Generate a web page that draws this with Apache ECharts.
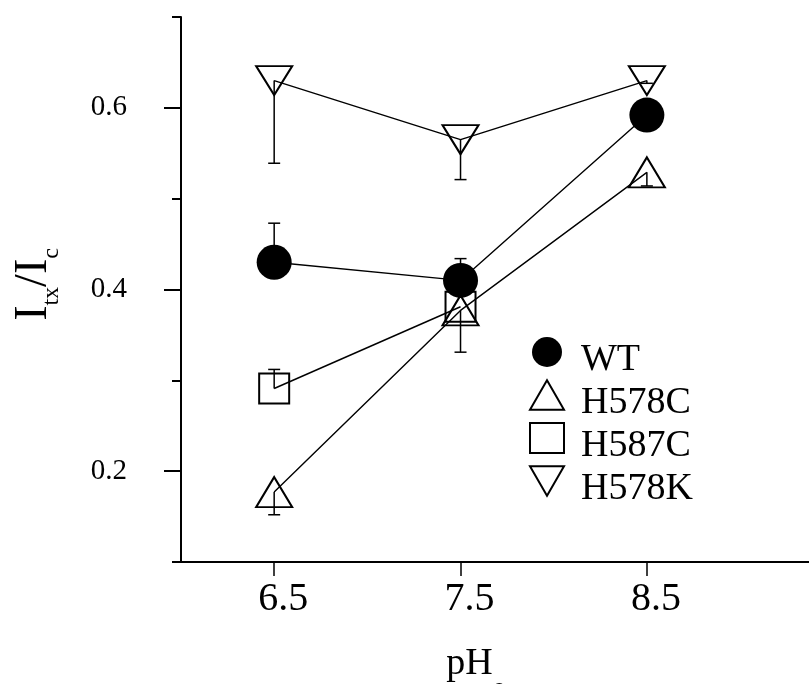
<!DOCTYPE html>
<html>
<head>
<meta charset="utf-8">
<script src="https://cdn.jsdelivr.net/npm/echarts@6/dist/echarts.min.js"></script>
<style>
  html, body { margin: 0; padding: 0; background: #fff; }
  #chart { width: 809px; height: 684px; }
</style>
</head>
<body>
<div id="chart"></div>
<script>
// values
var phValues = [6.5, 7.5, 8.5];
var wtValues = [0.43, 0.41, 0.592];
var h578cValues = [0.177, 0.377, 0.529];
var h587cValues = [0.291, 0.381, null];
var h578kValues = [0.63, 0.565, 0.63];
// one-sided error bars, value where the cap sits
var wtErrEnd = [0.473, 0.434, null];
var h578cErrEnd = [0.152, 0.331, 0.514];
var h587cErrEnd = [0.312, null, null];
var h578kErrEnd = [0.539, 0.521, 0.627];
var xTickValues = [6.5, 7.5, 8.5];
var yMajorTicks = [0.2, 0.4, 0.6];
var yMinorTicks = [0.1, 0.3, 0.5, 0.7];

var serif = "'Liberation Serif', 'Times New Roman', serif";
var upTri = 'path://M10,0L20,17.3L0,17.3Z';
var downTri = 'path://M0,0L20,0L10,17.3Z';

function pairs(vals) {
  var out = [];
  phValues.forEach(function (x, i) {
    if (vals[i] != null) out.push([x, vals[i]]);
  });
  return out;
}
function errRows(vals, ends) {
  var out = [];
  phValues.forEach(function (x, i) {
    if (vals[i] != null && ends[i] != null) out.push([x, vals[i], ends[i]]);
  });
  return out;
}

function renderErrorBar(params, api) {
  var p0 = api.coord([api.value(0), api.value(1)]);
  var p1 = api.coord([api.value(0), api.value(2)]);
  var half = 6;
  var st = { stroke: '#000', lineWidth: 1.5 };
  return {
    type: 'group',
    children: [
      { type: 'line', shape: { x1: p0[0], y1: p0[1], x2: p1[0], y2: p1[1] }, style: st },
      { type: 'line', shape: { x1: p1[0] - half, y1: p1[1], x2: p1[0] + half, y2: p1[1] }, style: st }
    ]
  };
}

var groups = [
  { name: 'WT', vals: wtValues, ends: wtErrEnd, symbol: 'circle', size: 35, fill: '#000' },
  { name: 'H578C', vals: h578cValues, ends: h578cErrEnd, symbol: upTri, size: [36, 30], fill: 'rgba(0,0,0,0)' },
  { name: 'H587C', vals: h587cValues, ends: h587cErrEnd, symbol: 'rect', size: 30, fill: 'rgba(0,0,0,0)' },
  { name: 'H578K', vals: h578kValues, ends: h578kErrEnd, symbol: downTri, size: [36, 29], fill: 'rgba(0,0,0,0)' }
];

var series = [];
groups.forEach(function (g) {
  series.push({
    name: g.name + '_err',
    type: 'custom',
    z: 1,
    renderItem: renderErrorBar,
    encode: { x: 0, y: [1, 2] },
    data: errRows(g.vals, g.ends),
    silent: true
  });
  series.push({
    name: g.name + '_line',
    type: 'line',
    z: 2,
    data: pairs(g.vals),
    symbol: 'none',
    lineStyle: { color: '#000', width: 1.4 },
    silent: true
  });
  series.push({
    name: g.name,
    type: 'scatter',
    z: 3,
    data: pairs(g.vals),
    symbol: g.symbol,
    symbolSize: g.size,
    itemStyle: { color: g.fill, borderColor: '#000', borderWidth: g.fill === '#000' ? 0 : 2, opacity: 1 }
  });
});

var chart = echarts.init(document.getElementById('chart'));
chart.setOption({
  animation: false,
  backgroundColor: '#fff',
  grid: { left: 181, right: 0, top: 17, bottom: 122, outerBoundsMode: 'none', containLabel: false },
  legend: {
    data: [
      { name: 'WT', icon: 'circle' },
      { name: 'H578C', icon: upTri },
      { name: 'H587C', icon: 'rect' },
      { name: 'H578K', icon: downTri }
    ],
    orient: 'vertical',
    left: 529,
    top: 325,
    padding: 0,
    itemWidth: 34,
    itemHeight: 30,
    itemGap: -11,
    selectedMode: false,
    formatter: '{t|{name}}',
    textStyle: {
      color: '#000',
      rich: {
        t: { fontFamily: serif, fontSize: 38, lineHeight: 24, color: '#000', padding: [16, 0, 0, 12] }
      }
    }
  },
  xAxis: {
    type: 'value',
    min: 6,
    max: 9.37,
    splitLine: { show: false },
    axisLine: { onZero: false, lineStyle: { color: '#000', width: 2 } },
    axisTick: { customValues: xTickValues, length: 14, lineStyle: { color: '#000', width: 1.5 } },
    axisLabel: {
      customValues: xTickValues,
      margin: 17,
      fontFamily: serif,
      fontSize: 40,
      lineHeight: 40,
      color: '#000',
      padding: [0, 0, 0, 18]
    },
    name: '{m|pH}{s|o}',
    nameLocation: 'middle',
    nameGap: 65,
    nameTextStyle: {
      padding: [0, 38, 0, 0],
      rich: {
        m: { fontFamily: serif, fontSize: 38, lineHeight: 74, color: '#000' },
        s: { fontFamily: serif, fontSize: 26, lineHeight: 26, verticalAlign: 'bottom', color: '#000' }
      }
    }
  },
  yAxis: [
    {
      type: 'value',
      min: 0.1,
      max: 0.7,
      splitLine: { show: false },
      axisLine: { show: true, onZero: false, lineStyle: { color: '#000', width: 2 } },
      axisTick: { customValues: yMajorTicks, length: 17, lineStyle: { color: '#000', width: 2 } },
      axisLabel: {
        customValues: yMajorTicks,
        margin: 54,
        fontFamily: serif,
        fontSize: 29,
        color: '#000',
        padding: [0, 0, 16, 0],
        formatter: function (v) { return v.toFixed(1); }
      },
      name: '{i|I}{s|tx}{i|/I}{s|c}',
      nameLocation: 'middle',
      nameRotate: 90,
      nameGap: 117,
      nameTextStyle: {
        padding: [0, 0, 0, 10],
        rich: {
          i: { fontFamily: serif, fontSize: 46, lineHeight: 60, color: '#000' },
          s: { fontFamily: serif, fontSize: 24, lineHeight: 24, verticalAlign: 'bottom', color: '#000' }
        }
      }
    },
    {
      type: 'value',
      min: 0.1,
      max: 0.7,
      position: 'left',
      splitLine: { show: false },
      axisLine: { show: false },
      axisTick: { show: true, customValues: yMinorTicks, length: 9, lineStyle: { color: '#000', width: 2 } },
      axisLabel: { show: false }
    }
  ],
  series: series
});
</script>
</body>
</html>
